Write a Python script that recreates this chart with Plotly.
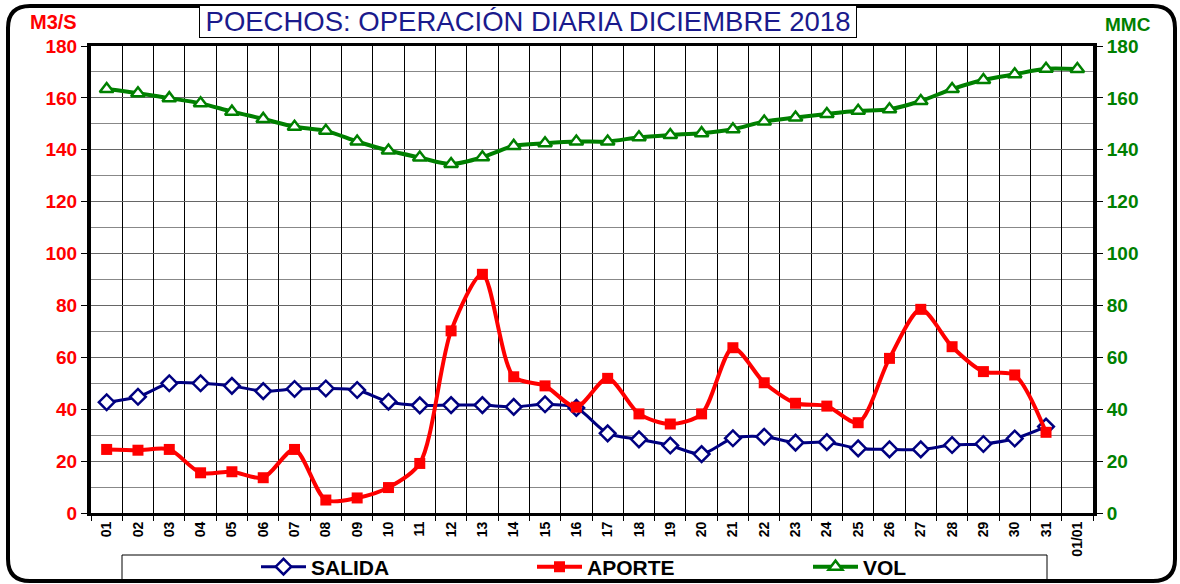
import plotly.graph_objects as go

# ---------------- data ----------------
dias = ["01","02","03","04","05","06","07","08","09","10","11","12","13","14","15","16",
        "17","18","19","20","21","22","23","24","25","26","27","28","29","30","31","01/01"]
salida = [42.7, 44.8, 50.0, 50.0, 49.0, 47.0, 47.8, 48.0, 47.4, 42.9, 41.5, 41.6, 41.6, 40.9, 41.9, 40.5,
          30.7, 28.4, 26.0, 22.7, 28.8, 29.4, 27.1, 27.3, 24.9, 24.5, 24.5, 26.2, 26.6, 28.7, 33.3]
aporte = [24.5, 24.2, 24.5, 15.5, 15.9, 13.6, 24.5, 5.0, 5.8, 9.8, 19.1, 70.2, 92.0, 52.5, 49.0, 40.8,
          51.9, 38.2, 34.3, 38.2, 63.7, 50.2, 42.3, 41.2, 34.8, 59.6, 78.5, 64.1, 54.5, 53.2, 31.1]
vol = [163.4, 161.8, 159.9, 157.9, 154.7, 151.9, 148.9, 147.3, 143.2, 139.7, 137.0, 134.5, 137.1, 141.5,
       142.5, 143.2, 143.2, 144.8, 145.7, 146.4, 147.9, 150.9, 152.4, 153.8, 155.0, 155.6, 158.8, 163.4,
       166.9, 169.1, 171.2, 171.1]
y_ticks = [0, 20, 40, 60, 80, 100, 120, 140, 160, 180]
y_ticktext = [f"<b>{v}</b>" for v in y_ticks]
x_ticktext = [f"<b>{d}</b>" for d in dias]

# ---------------- layout geometry (pixels) ----------------
W, H = 1180, 584
L, R, T, B = 91, 1093, 46, 513
def px(x):
    return (x - L) / (R - L)
def py(y):
    return (B - y) / (B - T)

FONT = "Liberation Sans, Arial, sans-serif"

fig = go.Figure()
fig.add_trace(go.Scatter(
    x=dias[:len(salida)], y=salida, name="<b>SALIDA</b>", mode="lines+markers",
    line=dict(color="#000080", width=3, shape="spline", smoothing=0.8),
    marker=dict(symbol="diamond", size=12, color="white", line=dict(color="#000080", width=2.5)),
))
fig.add_trace(go.Scatter(
    x=dias[:len(aporte)], y=aporte, name="<b>APORTE</b>", mode="lines+markers",
    line=dict(color="#FF0000", width=4, shape="spline", smoothing=0.8),
    marker=dict(symbol="square", size=11, color="#FF0000"),
))
fig.add_trace(go.Scatter(
    x=dias, y=vol, name="<b>VOL</b>", mode="lines+markers", yaxis="y2",
    line=dict(color="#008000", width=4, shape="spline", smoothing=0.8),
    marker=dict(symbol="triangle-up", size=12, color="white", line=dict(color="#008000", width=2.5)),
))

# rounded outer frame
x0, y0, x1, y1, r = 8, 6, 1175, 581, 22
path = (f"M {px(x0+r)},{py(y0)} L {px(x1-r)},{py(y0)} Q {px(x1)},{py(y0)} {px(x1)},{py(y0+r)} "
        f"L {px(x1)},{py(y1-r)} Q {px(x1)},{py(y1)} {px(x1-r)},{py(y1)} "
        f"L {px(x0+r)},{py(y1)} Q {px(x0)},{py(y1)} {px(x0)},{py(y1-r)} "
        f"L {px(x0)},{py(y0+r)} Q {px(x0)},{py(y0)} {px(x0+r)},{py(y0)} Z")
shapes = [
    dict(type="path", xref="paper", yref="paper", path=path, line=dict(color="black", width=4), layer="below"),
    dict(type="rect", xref="paper", yref="paper", x0=px(122), x1=px(1047), y0=py(555), y1=py(580),
         line=dict(color="black", width=1), layer="below"),
]

annotations = [
    dict(text="POECHOS: OPERACIÓN DIARIA DICIEMBRE 2018", xref="paper", yref="paper",
         x=px(528), y=py(21), xanchor="center", yanchor="middle", showarrow=False,
         font=dict(family=FONT, size=27.5, color="#1a1a8c"),
         bordercolor="black", borderwidth=1, bgcolor="white", borderpad=1, width=654, height=29),
    dict(text="<b>M3/S</b>", xref="paper", yref="paper", x=px(53), y=py(22), xanchor="center",
         yanchor="middle", showarrow=False, font=dict(family=FONT, size=20, color="#FF0000")),
    dict(text="<b>MMC</b>", xref="paper", yref="paper", x=px(1128), y=py(24), xanchor="center",
         yanchor="middle", showarrow=False, font=dict(family=FONT, size=19, color="#008000")),
]

fig.update_layout(
    width=W, height=H,
    margin=dict(l=L, r=W - R, t=T, b=H - B, pad=0, autoexpand=False),
    paper_bgcolor="white", plot_bgcolor="white",
    font=dict(family=FONT, color="black"),
    showlegend=True,
    legend=dict(orientation="h", x=px(256), y=py(567), xanchor="left", yanchor="middle",
                font=dict(family=FONT, size=21, color="black"),
                entrywidth=216, entrywidthmode="pixels", itemwidth=45,
                bgcolor="rgba(0,0,0,0)", borderwidth=0),
    xaxis=dict(type="category", categoryorder="array", categoryarray=dias,
               tickmode="array", tickvals=dias, ticktext=x_ticktext,
               tickson="boundaries", ticks="outside", ticklen=5, tickcolor="black",
               showgrid=True, gridcolor="black", gridwidth=1,
               showline=True, linecolor="black", linewidth=3, mirror=True,
               tickangle=-90, tickfont=dict(family=FONT, size=14, color="black"),
               range=[-0.5, 31.5], zeroline=False, automargin=False),
    yaxis=dict(range=[0, 180], tickmode="array", tickvals=y_ticks, ticktext=y_ticktext,
               ticks="outside", ticklen=6, tickcolor="black",
               showgrid=True, gridcolor="#666666", gridwidth=1,
               minor=dict(dtick=10, showgrid=True, gridcolor="#888888", gridwidth=1, ticks=""),
               showline=True, linecolor="black", linewidth=4, zeroline=False, automargin=False,
               tickfont=dict(family=FONT, size=19, color="#FF0000")),
    yaxis2=dict(range=[0, 180], tickmode="array", tickvals=y_ticks, ticktext=y_ticktext,
                overlaying="y", side="right",
                ticks="outside", ticklen=6, tickcolor="black", showgrid=False,
                showline=True, linecolor="black", linewidth=4, zeroline=False, automargin=False,
                tickfont=dict(family=FONT, size=19, color="#008000")),
    shapes=shapes, annotations=annotations,
)

fig.write_html("out.html", config={"displayModeBar": False},
               post_script="document.body.style.margin='0';document.body.style.overflow='hidden';")
